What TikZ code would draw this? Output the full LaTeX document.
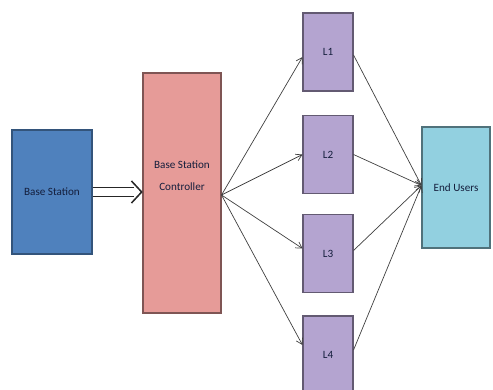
\documentclass[tikz,border=0pt]{standalone}
\usepackage{fontspec}
\setmainfont{Carlito}
\usetikzlibrary{positioning,arrows.meta,calc}
\definecolor{bsblue}{RGB}{79,129,189}
\definecolor{bscpink}{RGB}{230,155,152}
\definecolor{linkpurple}{RGB}{180,164,208}
\definecolor{usercyan}{RGB}{146,208,224}
\definecolor{textdark}{RGB}{20,30,60}

\begin{document}
\begin{tikzpicture}[x=0.03cm,y=-0.03cm,
		  every node/.style={draw,rectangle,font=\fontsize{9.5}{18.5}\selectfont,text=textdark,align=center,line width=0.9pt},
		  bsnode/.style={fill=bsblue,draw=bsblue!65!black,minimum width=2.4cm,minimum height=3.72cm},
		  bscnode/.style={fill=bscpink,draw=bscpink!55!black,minimum width=2.34cm,minimum height=7.2cm},
		  lnode/.style={fill=linkpurple,draw=linkpurple!55!black,minimum width=1.5cm,minimum height=2.34cm},
		  eunode/.style={fill=usercyan,draw=usercyan!55!black,minimum width=2.04cm,minimum height=3.63cm},
		  txt/.style={draw=none,fill=none},
		  link/.style={->,>={Straight Barb[length=5pt,width=6pt]},draw=black!75,line width=0.6pt},
		  hollow/.style={draw=black!85,line width=1.3pt,line join=miter}
		]

			\useasboundingbox (0,0) rectangle (493,390);

			% the base station
			\node[bsnode] (bs) at (52,192) {Base Station};

			% the controller
			\node[bscnode] (bsc) at (182,193) {};
			\node[txt] (bsctext) at (182,176) {Base Station\\Controller};

			% the links
			\foreach \i/\y in {1/52,2/154.5,3/253.5,4/355}
			  \node[lnode] (l\i) at (328,\y) {L\i};

			% the end users
			\node[eunode] (eu) at (456,187.5) {End Users};

			% the double arrow
			\coordinate (tip) at (bsc.west |- bs.east);
			\draw [hollow] ($(bs.east)+(0,-4.5)$) -- ($(tip)+(-8,-4.5)$);
			\draw [hollow] ($(bs.east)+(0,4.5)$) -- ($(tip)+(-8,4.5)$);
			\draw [hollow] ($(tip)+(-11,-11)$) -- ($(tip)+(-0.8,0)$) -- ($(tip)+(-11,11)$);

			% the edges
			\foreach \i/\dy in {1/5,2/0,3/-5,4/-10}
			  \draw [link] ($(bsc.east)+(0,2)$) -- ($(l\i.west)+(0,\dy)$);
			\foreach \i/\dy in {1/3,2/0,3/-3,4/-5}
			  \draw [link] ($(l\i.east)+(0,\dy)$) -- ($(eu.west)+(0,-2)$);

		\end{tikzpicture}
\end{document}
